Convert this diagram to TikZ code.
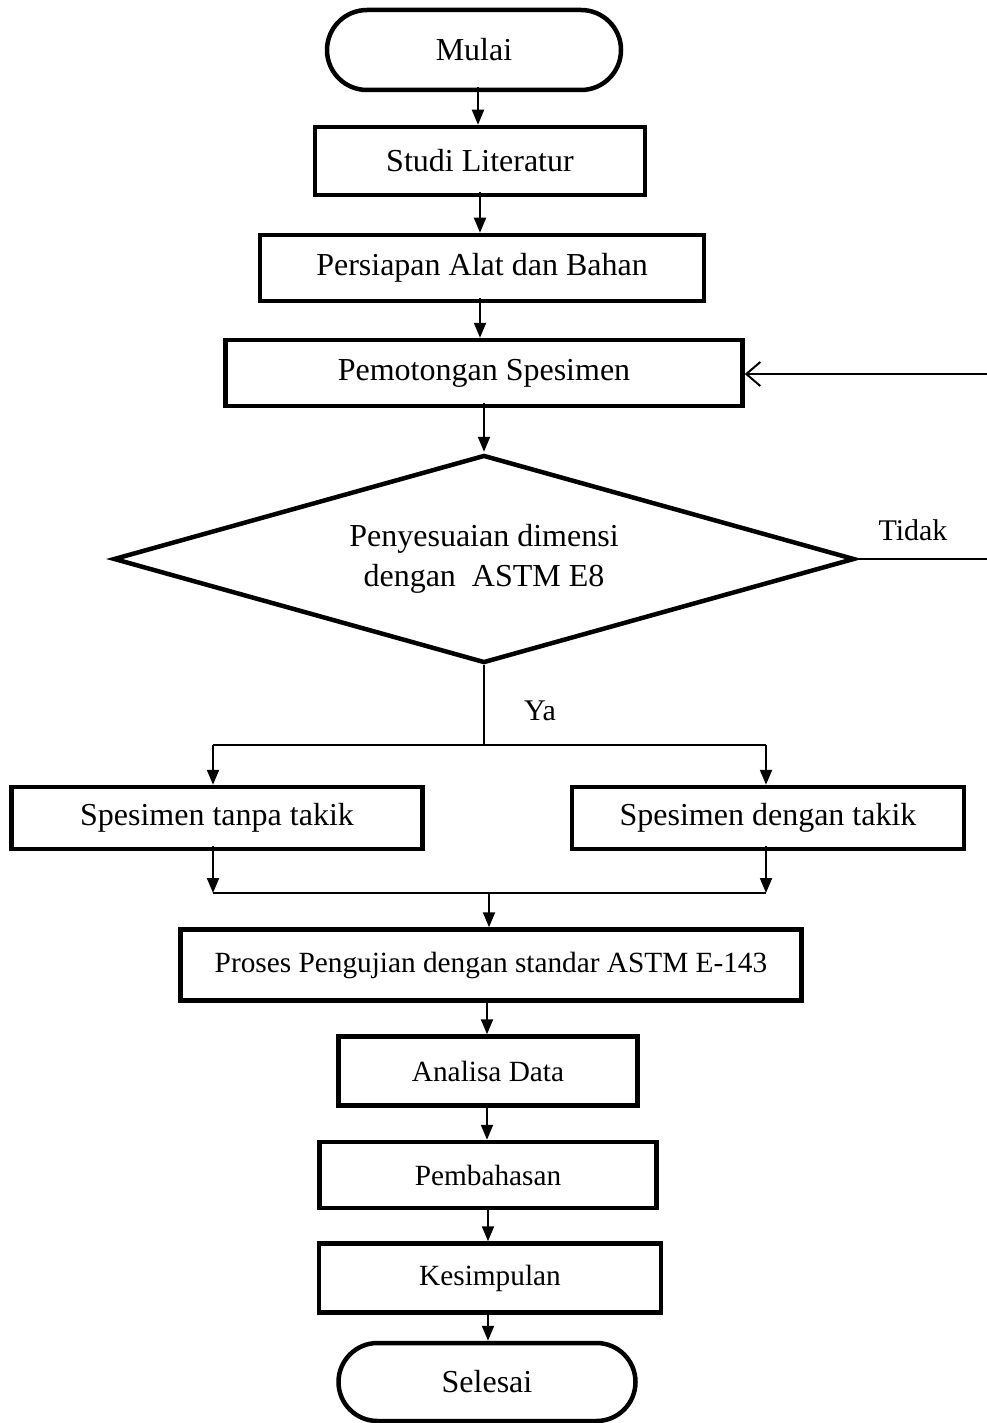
\documentclass[tikz,border=0pt]{standalone}
\usepackage{fontspec}
\setmainfont{Liberation Serif}
\usetikzlibrary{arrows.meta,shapes.geometric,shapes.misc}
\begin{document}
\begin{tikzpicture}[x=1pt,y=-1pt,
  box/.style={draw,line width=4.5pt,rectangle,inner sep=0pt,font=\fontsize{32}{40}\selectfont},
  sbox/.style={box,font=\fontsize{29.3}{36}\selectfont},
  term/.style={draw,line width=4.5pt,rounded rectangle,inner sep=0pt,font=\fontsize{32}{40}\selectfont},
  arr/.style={line width=2pt,-{Triangle[length=15pt,width=12pt]}},
  barb/.style={line width=2pt,-{Straight Barb[length=14pt,width=24pt,line width=2pt]}},
  ln/.style={line width=2pt},
  lbl/.style={inner sep=0pt,font=\fontsize{30}{36}\selectfont}]
\useasboundingbox (0,0) rectangle (986,1423);
\fill[white] (0,0) rectangle (986,1423);

\node[term,minimum width=294pt,minimum height=80pt] (mulai) at (474,50) {Mulai};
\node[box,minimum width=330pt,minimum height=68pt] (studi) at (480,161) {Studi Literatur};
\node[box,minimum width=444pt,minimum height=66pt] (persiapan) at (482,268) {Persiapan Alat dan Bahan};
\node[box,minimum width=517pt,minimum height=66pt] (pemo) at (484,373) {Pemotongan Spesimen};
\node[draw,line width=4.5pt,diamond,aspect=3.56,inner sep=0pt,minimum width=741pt,minimum height=208pt,
      align=center,font=\fontsize{32}{40}\selectfont] (dia) at (484,559)
      {Penyesuaian dimensi\\dengan\ \ ASTM E8};
\node[box,minimum width=411pt,minimum height=62pt] (kiri) at (217,818) {Spesimen tanpa takik};
\node[box,minimum width=392pt,minimum height=62pt] (kanan) at (768,818) {Spesimen dengan takik};
\node[sbox,minimum width=621pt,minimum height=71pt] (proses) at (491,965) {Proses Pengujian dengan standar ASTM E-143};
\node[sbox,minimum width=299pt,minimum height=69pt] (analisa) at (488,1071) {Analisa Data};
\node[sbox,minimum width=337pt,minimum height=66pt] (bahas) at (488,1175) {Pembahasan};
\node[sbox,minimum width=342pt,minimum height=69pt] (simpul) at (490,1278) {Kesimpulan};
\node[term,minimum width=297pt,minimum height=78pt] (selesai) at (487,1382) {Selesai};

\node[lbl] (tidak) at (913,530) {Tidak};
\node[lbl] (ya) at (540,711) {Ya};

% main arrows
\draw[arr] ([shift={(4pt,5pt)}]mulai.south) -- ([xshift=4pt]mulai.south |- studi.north);
\draw[arr] ([yshift=5pt]studi.south) -- (studi.south |- persiapan.north);
\draw[arr] ([shift={(-2pt,5pt)}]persiapan.south) -- ([xshift=-2pt]persiapan.south |- pemo.north);
\draw[arr] ([yshift=5pt]pemo.south) -- ([yshift=1pt]dia.north);

% Tidak loop
\coordinate (tR) at (992,559);
\coordinate (fR) at (992,374);
\draw[ln] (dia.east) -- (tR) -- (fR);
\draw[barb] (fR) -- (pemo.east |- fR);

% Ya split
\coordinate (split) at (484,745);
\coordinate (lsp) at (213,745);
\coordinate (rsp) at (766,745);
\draw[ln] (dia.south) -- (split);
\draw[ln] (lsp) -- (rsp);
\draw[arr] (lsp) -- (lsp |- kiri.north);
\draw[arr] (rsp) -- (rsp |- kanan.north);

% merge
\coordinate (lm) at (213,893);
\coordinate (rm) at (766,893);
\coordinate (mm) at (489,893);
\draw[arr] ([yshift=5pt]lm |- kiri.south) -- (lm);
\draw[arr] ([yshift=5pt]rm |- kanan.south) -- (rm);
\draw[ln] (lm) -- (rm);
\draw[arr] (mm) -- (mm |- proses.north);

% lower chain
\draw[arr] ([shift={(-4pt,3pt)}]proses.south) -- ([xshift=-4pt]proses.south |- analisa.north);
\draw[arr] ([shift={(-1pt,3pt)}]analisa.south) -- ([xshift=-1pt]analisa.south |- bahas.north);
\draw[arr] ([yshift=3pt]bahas.south) -- (bahas.south |- simpul.north);
\draw[arr] ([shift={(-2pt,3pt)}]simpul.south) -- ([xshift=-2pt]simpul.south |- selesai.north);
\end{tikzpicture}
\end{document}
